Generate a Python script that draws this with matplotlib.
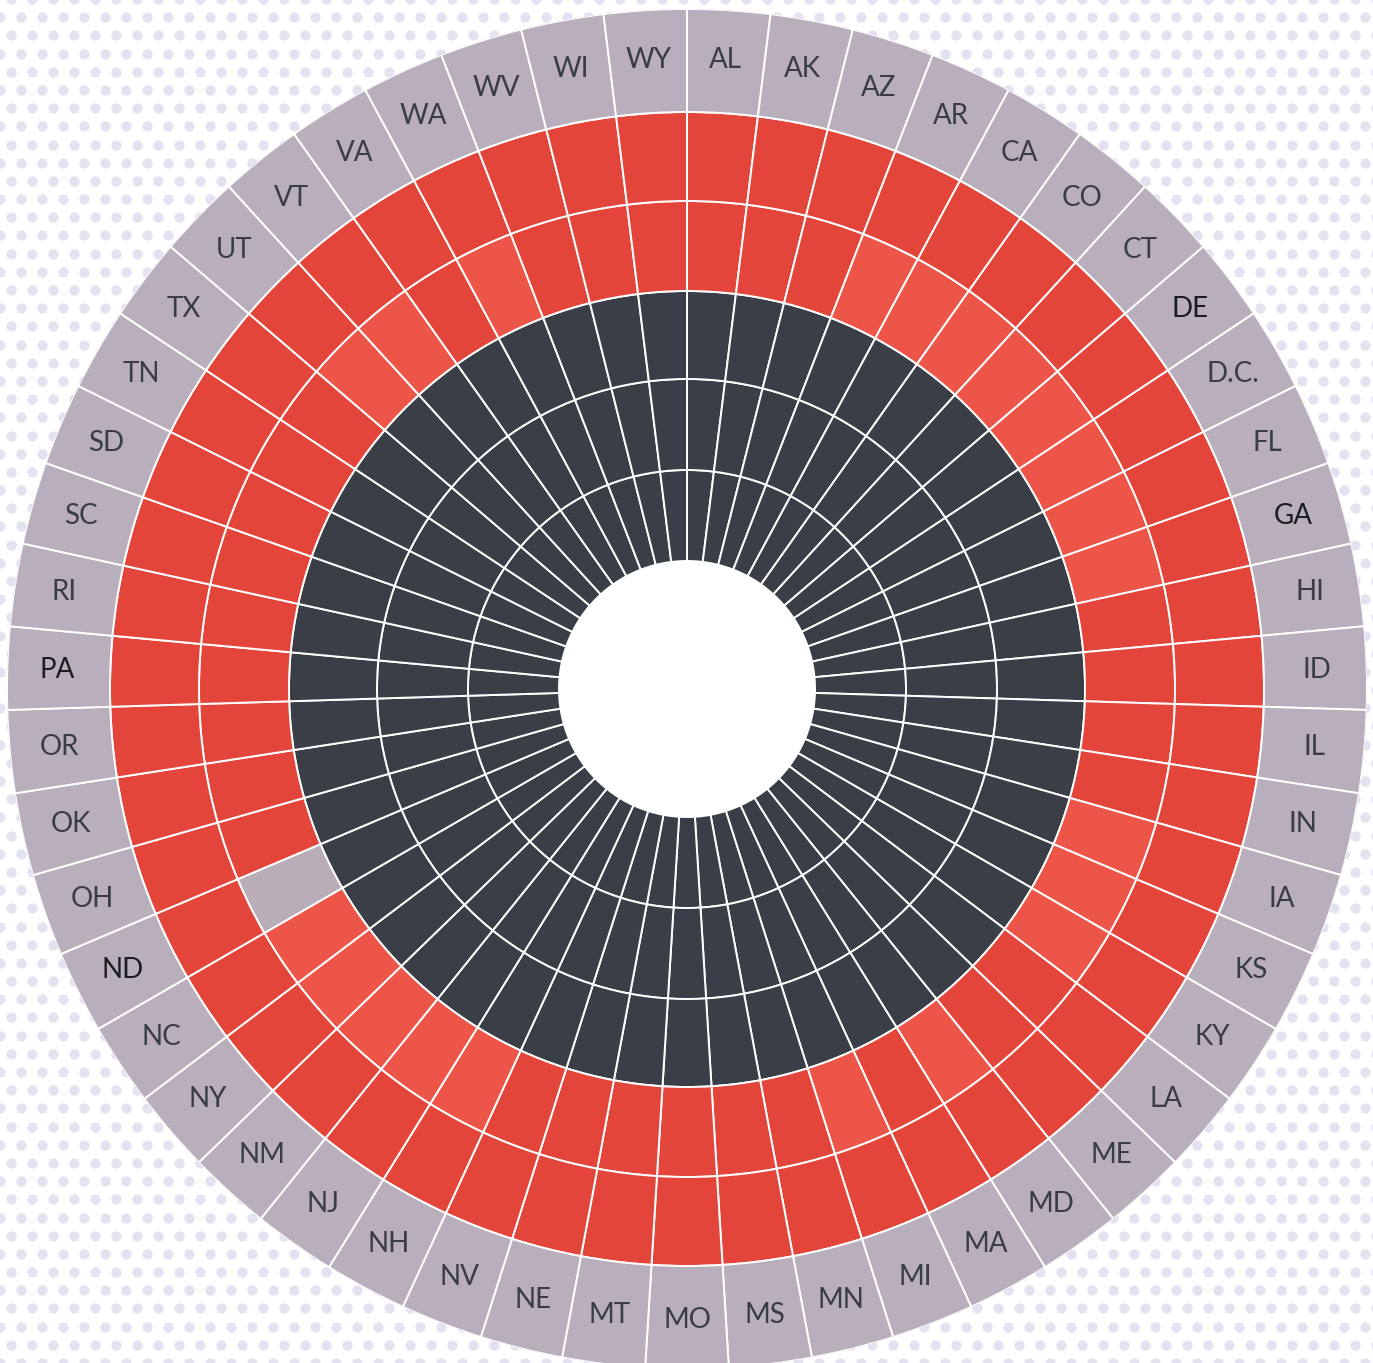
import numpy as np
import matplotlib
matplotlib.use("Agg")
import matplotlib.pyplot as plt

# ---------------- data ----------------
states = ["AL", "AK", "AZ", "AR", "CA", "CO", "CT", "DE", "D.C.", "FL", "GA",
          "HI", "ID", "IL", "IN", "IA", "KS", "KY", "LA", "ME", "MD", "MA",
          "MI", "MN", "MS", "MO", "MT", "NE", "NV", "NH", "NJ", "NM", "NY",
          "NC", "ND", "OH", "OK", "OR", "PA", "RI", "SC", "SD", "TN", "TX",
          "UT", "VT", "VA", "WA", "WV", "WI", "WY"]

# status codes per ring (inner -> outer): D dark, R red, L light red, G gray
ring1 = ["D"] * 51
ring2 = ["D"] * 51
ring3 = ["D"] * 51
ring4 = ["R", "R", "R", "L", "L", "L", "L", "L", "L", "L", "L",
         "R", "R", "R", "R", "L", "L", "L", "R", "R", "L", "R",
         "L", "R", "R", "R", "R", "R", "R", "L", "L", "L", "L",
         "L", "G", "R", "R", "R", "R", "R", "R", "R", "R", "R",
         "L", "L", "R", "L", "R", "R", "R"]
ring5 = ["R"] * 51

# labels drawn darker in the reference
emphasis = ["DE", "GA", "PA", "ND"]

# ---------------- style ----------------
colors = {"D": "#393e47", "R": "#e4453a", "L": "#ed5549", "G": "#b9adb7"}
label_ring_color = "#b9afbc"
ring_edges = [128, 219, 310, 398, 488, 577, 680]

W, H = 1373, 1363
fig = plt.figure(figsize=(W / 100, H / 100), dpi=100)
fig.patch.set_facecolor("white")

# dotted background
bg = fig.add_axes([0, 0, 1, 1])
bg.set_xlim(0, W)
bg.set_ylim(0, H)
bg.axis("off")
sp = 21.0
ys = np.arange(0, H + sp, sp * 0.866)
pts_x, pts_y = [], []
for k, yv in enumerate(ys):
    xs = np.arange((k % 2) * sp / 2, W + sp, sp)
    pts_x.extend(xs)
    pts_y.extend([yv] * len(xs))
bg.scatter(pts_x, pts_y, s=55, color="#e3e2f1", linewidths=0, zorder=0)

# polar chart
cx, cy, R = 687, 689, 680
ax = fig.add_axes([(cx - R) / W, (H - cy - R) / H, 2 * R / W, 2 * R / H],
                  projection="polar")
ax.set_theta_zero_location("N")
ax.set_theta_direction(-1)
ax.set_ylim(0, R)
ax.set_axis_off()

n = len(states)
width = 2 * np.pi / n
theta = np.arange(n) * width + width / 2

rings = [ring1, ring2, ring3, ring4, ring5]
for i, ring in enumerate(rings):
    bottom = ring_edges[i]
    height = ring_edges[i + 1] - ring_edges[i]
    ax.bar(theta, height, width=width, bottom=bottom,
           color=[colors[c] for c in ring], edgecolor="white",
           linewidth=1.4, align="center", zorder=2)

# label ring
ax.bar(theta, ring_edges[6] - ring_edges[5], width=width,
       bottom=ring_edges[5], color=label_ring_color, edgecolor="white",
       linewidth=1.4, align="center", zorder=2)

# inner white hole
ax.bar(0, ring_edges[0], width=2 * np.pi, bottom=0, color="white",
       linewidth=0, zorder=1)

label_r = (ring_edges[5] + ring_edges[6]) / 2 + 2
for t, s in zip(theta, states):
    col = "#1c1d21" if s in emphasis else "#3a3d45"
    ax.text(t, label_r, s, ha="center", va="center", fontsize=20,
            family=["Lato", "DejaVu Sans"], color=col, zorder=5)

fig.savefig("out.png", dpi=100, facecolor="white")
